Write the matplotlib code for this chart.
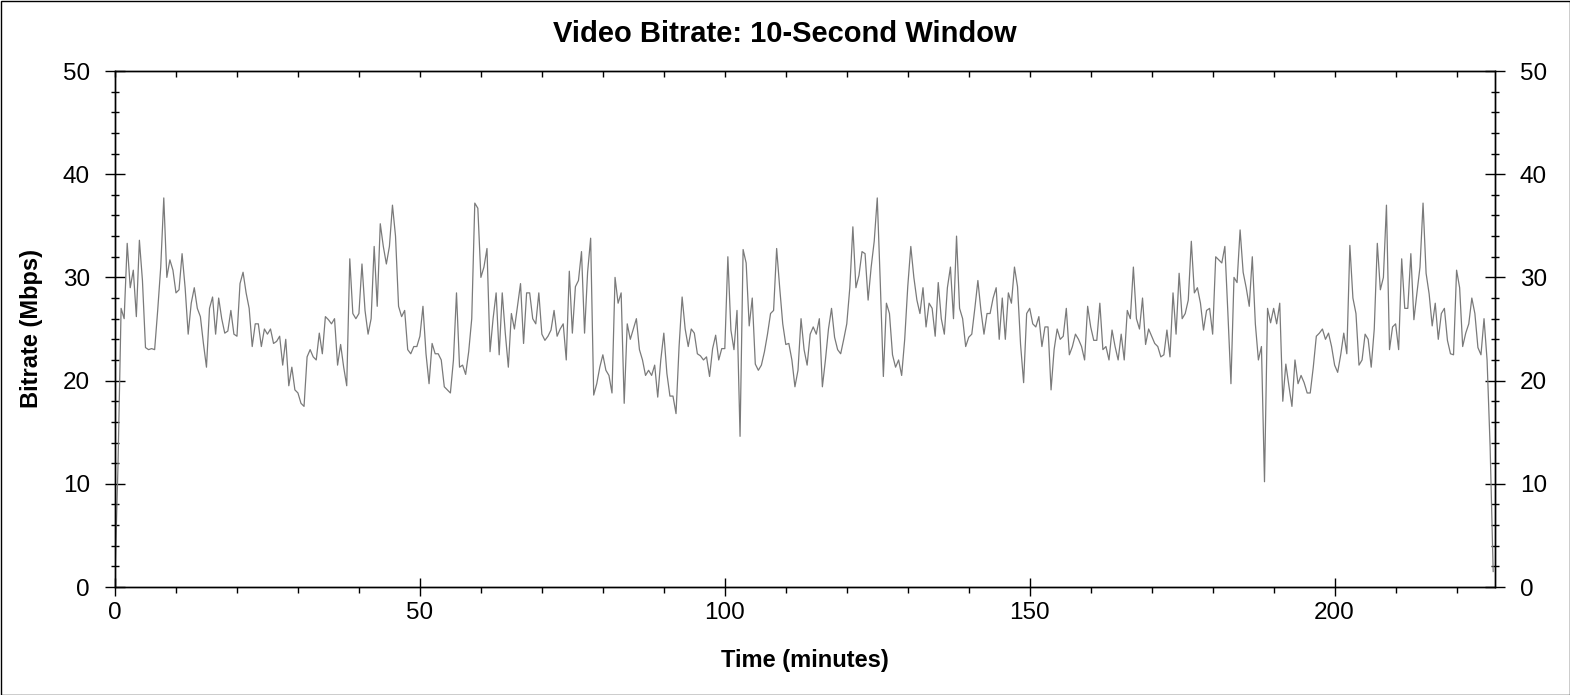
import numpy as np
import matplotlib
matplotlib.use("Agg")
import matplotlib.pyplot as plt
from matplotlib.patches import Rectangle
from matplotlib.ticker import MultipleLocator

plt.rcParams['font.family'] = ['Liberation Sans', 'DejaVu Sans']

# bitrate (Mbps), one value every 0.5 minutes, 10-minute chunks
b000 = [1, 12, 27, 26, 33.3, 29, 30.7, 26.2, 33.6, 29.7, 23.2, 23.0, 23.1, 23.0, 26.8, 31, 37.7, 30, 31.7, 30.7]
b010 = [28.5, 28.8, 32.3, 29, 24.5, 27.5, 29, 27, 26.2, 23.6, 21.3, 27, 28.1, 24.5, 28, 26, 24.6, 24.8, 26.8, 24.5]
b020 = [24.3, 29.4, 30.5, 28.5, 27, 23.3, 25.5, 25.5, 23.3, 25, 24.5, 25, 23.6, 23.8, 24.3, 21.5, 24, 19.5, 21.3, 19.1]
b030 = [18.8, 17.8, 17.5, 22.3, 23, 22.3, 22, 24.6, 22.6, 26.2, 25.9, 25.5, 26, 21.5, 23.5, 21.3, 19.5, 31.8, 26.5, 26]
b040 = [26.5, 31.3, 26.8, 24.5, 26, 33, 27.2, 35.2, 33, 31.3, 33, 37, 34, 27.2, 26.2, 26.8, 23, 22.6, 23.3, 23.3]
b050 = [24.3, 27.2, 22.6, 19.7, 23.6, 22.6, 22.6, 22, 19.4, 19.1, 18.8, 22, 28.5, 21.3, 21.5, 20.6, 22.8, 26, 37.2, 36.7]
b060 = [30, 31, 32.8, 22.8, 26, 28.5, 22.5, 28.5, 24.6, 21.3, 26.5, 25, 27.2, 29.4, 23.6, 28.5, 28.5, 26, 25.5, 28.5]
b070 = [24.5, 23.9, 24.3, 24.9, 26.8, 24.3, 25, 25.5, 22, 30.6, 24.6, 29.1, 29.7, 32.5, 24.6, 30.5, 33.8, 18.6, 19.7, 21.3]
b080 = [22.5, 21, 20.5, 18.8, 30, 27.5, 28.5, 17.8, 25.5, 24, 25, 26, 23, 22, 20.5, 21, 20.5, 21.5, 18.4, 22]
b090 = [24.6, 20.7, 18.5, 18.5, 16.8, 23.3, 28.1, 25, 23.3, 25, 24.6, 22.6, 22.4, 22, 22.3, 20.4, 23.1, 24.4, 22, 23.1]
b100 = [23.1, 32, 24.9, 23, 26.8, 14.6, 32.7, 31.4, 25.3, 28, 21.6, 21, 21.5, 22.8, 24.5, 26.5, 26.8, 32.8, 29, 25.5]
b110 = [23.5, 23.6, 22, 19.4, 21, 26, 23, 21.5, 24.5, 25.2, 24.5, 26, 19.4, 22, 25, 27, 24.2, 23, 22.6, 24]
b120 = [25.5, 29, 34.9, 29, 30.2, 32.5, 32.3, 27.8, 31, 33.5, 37.7, 29.4, 20.4, 27.5, 26.5, 22.5, 21.3, 22, 20.5, 24]
b130 = [29.1, 33, 30, 27.8, 26.5, 29, 25.2, 27.5, 27, 24.3, 29.5, 26, 24.5, 29, 31, 26, 34, 27, 26, 23.3]
b140 = [24.2, 24.5, 27, 29.7, 26.8, 24.5, 26.5, 26.5, 28, 29, 24, 28, 24, 28.5, 27.5, 31, 29.1, 23.5, 19.8, 26.5]
b150 = [27, 25.5, 25.2, 26.2, 23.3, 25.2, 25.2, 19.1, 23, 25, 24, 24.3, 27, 22.5, 23.3, 24.5, 24, 23.3, 22, 27.2]
b160 = [25.2, 23.9, 23.9, 27.5, 23, 23.3, 22, 24.9, 23.3, 22, 24.5, 22, 26.8, 26, 31, 26, 25, 28, 23.5, 25]
b170 = [24.3, 23.6, 23.3, 22.3, 22.5, 24.9, 22.3, 28.5, 24.5, 30.4, 26, 26.5, 27.8, 33.5, 28.5, 29, 27.5, 24.9, 26.8, 27]
b180 = [24.5, 32, 31.7, 31.4, 33, 26.5, 19.7, 30, 29.5, 34.6, 30.5, 29, 27.2, 32, 25.5, 22, 23.3, 10.2, 27, 25.6]
b190 = [27, 25.5, 27.5, 18, 21.6, 19.5, 17.5, 22, 19.7, 20.5, 19.8, 18.8, 18.8, 21.3, 24.3, 24.6, 25, 24, 24.6, 23.3]
b200 = [21.5, 20.8, 22.5, 24.6, 22.6, 33.1, 28, 26.5, 21.5, 22, 24.5, 24, 21.3, 25, 33.3, 28.8, 30, 37, 23, 25.2]
b210 = [25.5, 23, 31.8, 27, 27, 32.3, 25.9, 28.5, 31, 37.2, 30.4, 28.4, 25.3, 27.5, 24, 26.5, 27, 23.9, 22.6, 22.5]
b220 = [30.7, 29, 23.3, 24.6, 25.5, 28, 26.5, 23.2, 22.5, 26, 22, 13.6, 1.5]

bitrate = np.array(b000 + b010 + b020 + b030 + b040 + b050 + b060 + b070 + b080 + b090 + b100
                   + b110 + b120 + b130 + b140 + b150 + b160 + b170 + b180 + b190 + b200
                   + b210 + b220)
minutes = np.arange(len(bitrate)) * 0.5

W, H = 1570, 695
fig = plt.figure(figsize=(W / 100, H / 100), dpi=100)
ax = fig.add_axes([115 / W, (H - 587) / H, 1380 / W, 516 / H])

ax.plot(minutes, bitrate, color='#7a7a7a', linewidth=0.9)

ax.set_xlim(0, 226.3)
ax.set_ylim(0, 50)

# ticks
ax.xaxis.set_major_locator(MultipleLocator(50))
ax.xaxis.set_minor_locator(MultipleLocator(10))
ax.yaxis.set_major_locator(MultipleLocator(10))
ax.yaxis.set_minor_locator(MultipleLocator(2))
ax.tick_params(axis='x', which='major', direction='inout', length=13, width=1, pad=4, labelsize=17.5)
ax.tick_params(axis='x', which='minor', direction='out', length=4, width=1)
ax.tick_params(axis='y', which='major', direction='inout', length=14, width=1, pad=11,
               labelsize=17.5, right=True, labelright=True)
ax.tick_params(axis='y', which='minor', direction='inout', length=6, width=1, right=True)

# top edge: small inward ticks every 10 minutes
top = ax.twiny()
top.set_xlim(ax.get_xlim())
top.xaxis.set_major_locator(MultipleLocator(10))
top.tick_params(axis='x', direction='in', length=4, width=1, labeltop=False)

for a in (ax, top):
    for s in a.spines.values():
        s.set_linewidth(1)

# labels
ax.set_xlabel('Time (minutes)', fontsize=17, fontweight='bold', va='center')
ax.xaxis.set_label_coords(0.5, (587 - 660) / 516)
ax.set_ylabel('Bitrate (Mbps)', fontsize=17, fontweight='bold', va='center')
ax.yaxis.set_label_coords((32 - 115) / 1380, 0.5)
fig.text(0.5, 1 - 34 / H, 'Video Bitrate: 10-Second Window', ha='center', va='center',
         fontsize=21, fontweight='bold')

# thin frame around the whole picture
fig.patches.append(Rectangle((0.5 / W, 0.5 / H), 1 - 1 / W, 1 - 1 / H, transform=fig.transFigure,
                             fill=False, edgecolor='black', linewidth=1))

fig.savefig('out.png', dpi=100)
